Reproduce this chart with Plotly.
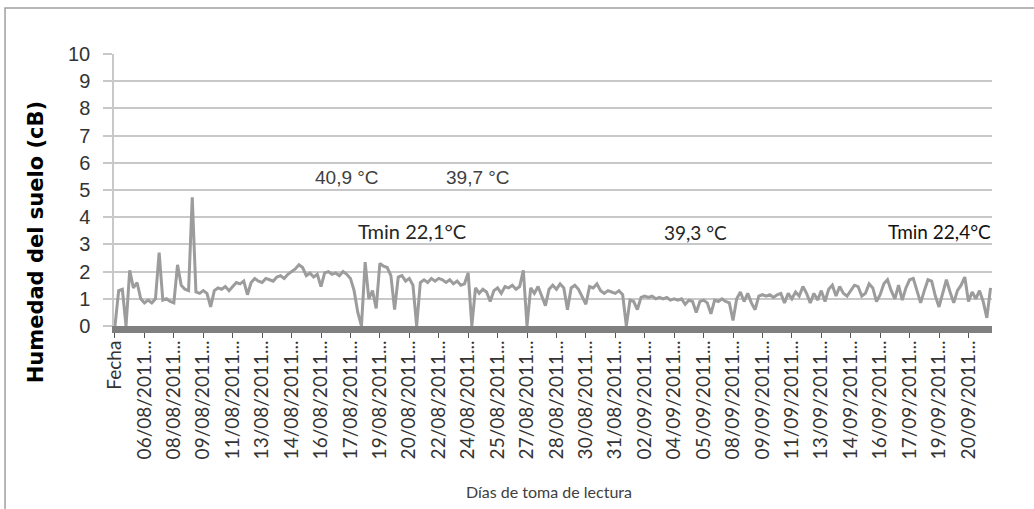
import plotly.graph_objects as go

humedad = [
    0, 1.3, 1.35, 0, 2.05, 1.4, 1.6, 1.0,
    0.85, 0.95, 0.85, 1.0, 2.7, 0.95, 1.0, 0.9,
    0.85, 2.25, 1.5, 1.35, 1.3, 4.73, 1.25, 1.2,
    1.3, 1.2, 0.7, 1.3, 1.4, 1.35, 1.45, 1.3,
    1.45, 1.6, 1.55, 1.65, 1.15, 1.6, 1.75, 1.65,
    1.6, 1.75, 1.7, 1.65, 1.8, 1.85, 1.75, 1.9,
    2.0, 2.1, 2.25, 2.15, 1.85, 1.95, 1.8, 1.9,
    1.45, 1.95, 2.0, 1.9, 1.95, 1.85, 2.0, 1.9,
    1.75, 1.3, 0.5, 0, 2.35, 1.0, 1.3, 0.65,
    2.3, 2.2, 2.15, 1.85, 0.6, 1.8, 1.85, 1.65,
    1.75, 1.5, 0, 1.6, 1.7, 1.6, 1.75, 1.65,
    1.75, 1.7, 1.6, 1.7, 1.55, 1.65, 1.5, 1.55,
    1.95, 0, 1.4, 1.2, 1.35, 1.25, 0.9, 1.3,
    1.4, 1.2, 1.45, 1.4, 1.5, 1.35, 1.45, 2.05,
    0, 1.4, 1.2, 1.45, 1.1, 0.75, 1.35, 1.5,
    1.35, 1.55, 1.4, 0.6, 1.4, 1.5, 1.35, 1.1,
    0.8, 1.45, 1.4, 1.55, 1.3, 1.2, 1.3, 1.25,
    1.2, 1.3, 1.15, 0, 0.95, 0.9, 0.6, 1.05,
    1.1, 1.05, 1.1, 1.0, 1.05, 1.0, 1.05, 0.95,
    1.0, 0.95, 1.0, 0.8, 0.95, 0.9, 0.5, 0.9,
    0.95, 0.85, 0.45, 0.95, 0.9, 1.0, 0.9, 0.85,
    0.2, 1.0, 1.25, 0.9, 1.2, 0.85, 0.6, 1.1,
    1.15, 1.1, 1.15, 1.05, 1.15, 1.2, 0.85, 1.2,
    1.0, 1.25, 1.1, 1.45, 1.2, 0.85, 1.2, 0.95,
    1.3, 0.9, 1.35, 1.5, 1.1, 1.45, 1.2, 1.1,
    1.3, 1.5, 1.45, 1.1, 1.2, 1.55, 1.4, 0.9,
    1.15, 1.55, 1.7, 1.3, 1.0, 1.5, 0.95, 1.4,
    1.7, 1.75, 1.3, 0.85, 1.3, 1.7, 1.65, 1.1,
    0.7, 1.2, 1.7, 1.25, 0.85, 1.3, 1.5, 1.8,
    0.9, 1.25, 1.0, 1.3, 0.9, 0.3, 1.4,
]

# Category labels shown on the x axis (one every 8 readings)
etiquetas = [
    "Fecha", "06/08/2011...", "08/08/2011...", "09/08/2011...", "11/08/2011...",
    "13/08/2011...", "14/08/2011...", "16/08/2011...", "17/08/2011...", "19/08/2011...",
    "20/08/2011...", "22/08/2011...", "24/08/2011...", "25/08/2011...", "27/08/2011...",
    "28/08/2011...", "30/08/2011...", "31/08/2011...", "02/09/2011...", "04/09/2011...",
    "05/09/2011...", "08/09/2011...", "09/09/2011...", "11/09/2011...", "13/09/2011...",
    "14/09/2011...", "16/09/2011...", "17/09/2011...", "19/09/2011...", "20/09/2011...",
]
paso_etiqueta = 8

# Temperature notes placed on the chart (text, reading index, value level)
notas_texto = ["40,9 °C", "39,7 °C", "Tmin 22,1°C", "39,3 °C", "Tmin 22,4°C"]
notas_x = [63.0, 98.8, 80.7, 157.7, 224.0]
notas_y = [5.46, 5.46, 3.49, 3.42, 3.49]

x_idx = list(range(len(humedad)))
tickvals = [i * paso_etiqueta for i in range(len(etiquetas))]

fig = go.Figure()
fig.add_trace(go.Scatter(
    x=x_idx, y=humedad, mode="lines",
    line=dict(color="#9c9c9c", width=3),
    hoverinfo="skip", showlegend=False,
))

calibri_like = "Lato, 'Open Sans', sans-serif"
arial_like = "'Liberation Sans', Arial, sans-serif"

fonts = [
    dict(family=arial_like, size=19, color="#404040"),
    dict(family=arial_like, size=19, color="#404040"),
    dict(family=calibri_like, size=20, color="#262626"),
    dict(family=calibri_like, size=19, color="#262626"),
    dict(family=calibri_like, size=19, color="#111111"),
]
for t, xv, yv, f in zip(notas_texto, notas_x, notas_y, fonts):
    fig.add_annotation(x=xv, y=yv, xref="x", yref="y", text=t, showarrow=False,
                       font=f, xanchor="center", yanchor="middle")

# axis titles
fig.add_annotation(x=-0.088, y=0.307, xref="paper", yref="paper",
                   text="<b>Humedad del suelo (cB)</b>", textangle=-90, showarrow=False,
                   font=dict(family="'DejaVu Sans', sans-serif", size=21, color="#000000"),
                   xanchor="center", yanchor="middle")
fig.add_annotation(x=0.495, y=-0.607, xref="paper", yref="paper",
                   text="Días de toma de lectura", showarrow=False,
                   font=dict(family=calibri_like, size=16, color="#404040"),
                   xanchor="center", yanchor="middle")

# outer chart-area border
fig.add_shape(type="rect", xref="paper", yref="paper",
              x0=-0.1241, x1=1.3, y0=-1.2, y1=1.169,
              line=dict(color="#a0a0a0", width=1.5), fillcolor="rgba(0,0,0,0)",
              layer="below")

fig.update_layout(
    width=1034, height=509,
    margin=dict(l=114, r=42, t=54, b=183),
    paper_bgcolor="white", plot_bgcolor="white",
    showlegend=False,
    xaxis=dict(
        range=[-0.27, 238.4],
        tickmode="array", tickvals=tickvals, ticktext=etiquetas,
        tickangle=-90,
        tickfont=dict(family=calibri_like, size=19, color="#333333"),
        showgrid=False, zeroline=False,
        showline=True, linecolor="#808080", linewidth=7,
        ticks="outside", ticklen=5, tickcolor="#555555", tickwidth=1,
        ticklabelstandoff=-5,
    ),
    yaxis=dict(
        range=[0, 10], dtick=1, tick0=0,
        tickfont=dict(family=arial_like, size=20, color="#333333"),
        showgrid=True, gridcolor="#c8c8c8", gridwidth=2,
        zeroline=False,
        showline=True, linecolor="#c8c8c8", linewidth=1.5,
        ticks="outside", ticklen=9, tickcolor="#c8c8c8", tickwidth=1.5,
        ticklabelstandoff=9,
    ),
)

fig.write_html("out.html")
